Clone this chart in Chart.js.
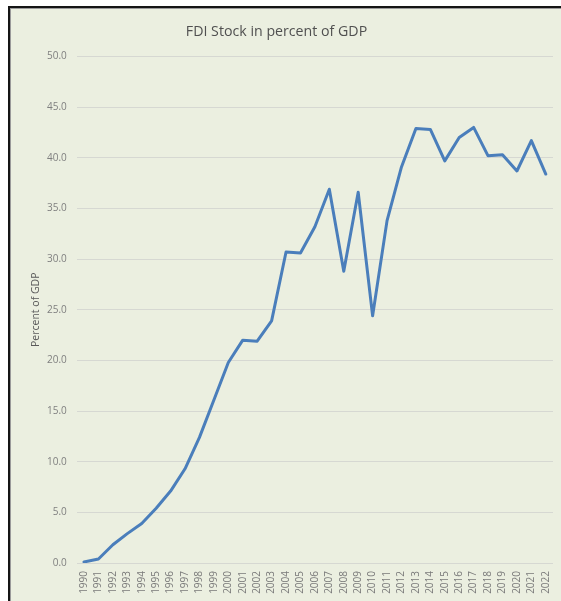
<!DOCTYPE html>
<html>
<head>
<meta charset="utf-8">
<script src="https://cdn.jsdelivr.net/npm/chart.js@4.4.1/dist/chart.umd.min.js"></script>
<style>
  html, body { margin: 0; padding: 0; background: #ffffff; }
  body { width: 561px; height: 601px; position: relative; overflow: hidden; }
  #frame {
    position: absolute; left: 8px; top: 6px; right: -4px; bottom: -4px;
    background: #ebefe0;
    border-left: 2px solid #151515;
    border-top: 2px solid #151515;
    box-shadow: inset 1px 1px 0 #9a9a9a;
  }
  #c { position: absolute; left: 0; top: 0; }
</style>
</head>
<body>
<div id="frame"></div>
<canvas id="c" width="561" height="601"></canvas>
<script>
// Years on the horizontal axis
const years = [
  '1990','1991','1992','1993','1994','1995','1996','1997','1998','1999',
  '2000','2001','2002','2003','2004','2005','2006','2007','2008','2009',
  '2010','2011','2012','2013','2014','2015','2016','2017','2018','2019',
  '2020','2021','2022'
];

// FDI stock as a share of GDP, percent
const fdiStockPct = [
  0.1, 0.4, 1.8, 2.9, 3.9, 5.4, 7.1, 9.3, 12.4, 16.1,
  19.8, 22.0, 21.9, 23.9, 30.7, 30.6, 33.2, 36.9, 28.8, 36.6,
  24.4, 33.8, 39.1, 42.9, 42.8, 39.7, 42.0, 43.0, 40.2, 40.3,
  38.7, 41.7, 38.4
];

// Value-axis ticks
const yTicks = [0, 5, 10, 15, 20, 25, 30, 35, 40, 45, 50];

const chartTitle = 'FDI Stock in percent of GDP';
const yAxisTitle = 'Percent of GDP';

new Chart(document.getElementById('c'), {
  type: 'line',
  data: {
    labels: years,
    datasets: [{
      data: fdiStockPct,
      borderColor: '#4a7ebb',
      borderWidth: 3,
      pointRadius: 0,
      tension: 0,
      fill: false,
      borderJoinStyle: 'round',
      borderCapStyle: 'round'
    }]
  },
  options: {
    responsive: false,
    animation: false,
    devicePixelRatio: 1,
    layout: { padding: { left: 0, right: 8, top: 0, bottom: 0 } },
    plugins: {
      legend: { display: false },
      tooltip: { enabled: false },
      title: {
        display: true,
        text: chartTitle,
        color: '#505050',
        font: { family: 'Open Sans', size: 14.2, weight: 'normal' },
        padding: { top: 23, bottom: 16.5 }
      }
    },
    scales: {
      x: {
        type: 'category',
        offset: true,
        grid: { display: false, drawTicks: false },
        border: { display: false },
        ticks: {
          autoSkip: false,
          minRotation: 90,
          maxRotation: 90,
          padding: 8,
          color: '#7a7a7a',
          font: { family: 'Open Sans', size: 10 }
        },
        afterFit: (s) => { s.height = 38; s.paddingLeft = 0; s.paddingRight = 0; }
      },
      y: {
        min: 0,
        max: 50,
        afterBuildTicks: (s) => { s.ticks = yTicks.map(v => ({ value: v })); },
        grid: { color: '#d6d8d2', lineWidth: 1, drawTicks: false },
        border: { display: false },
        ticks: {
          padding: 10,
          color: '#7f7f7f',
          font: { family: 'Open Sans', size: 10 },
          callback: (v) => Number(v).toFixed(1)
        },
        title: {
          display: true,
          text: yAxisTitle,
          color: '#595959',
          font: { family: 'Open Sans', size: 10.5 },
          padding: { top: 30 }
        },
        afterFit: (s) => { s.width = 76.8; s.paddingTop = 0; s.paddingBottom = 0; }
      }
    }
  }
});
</script>
</body>
</html>
